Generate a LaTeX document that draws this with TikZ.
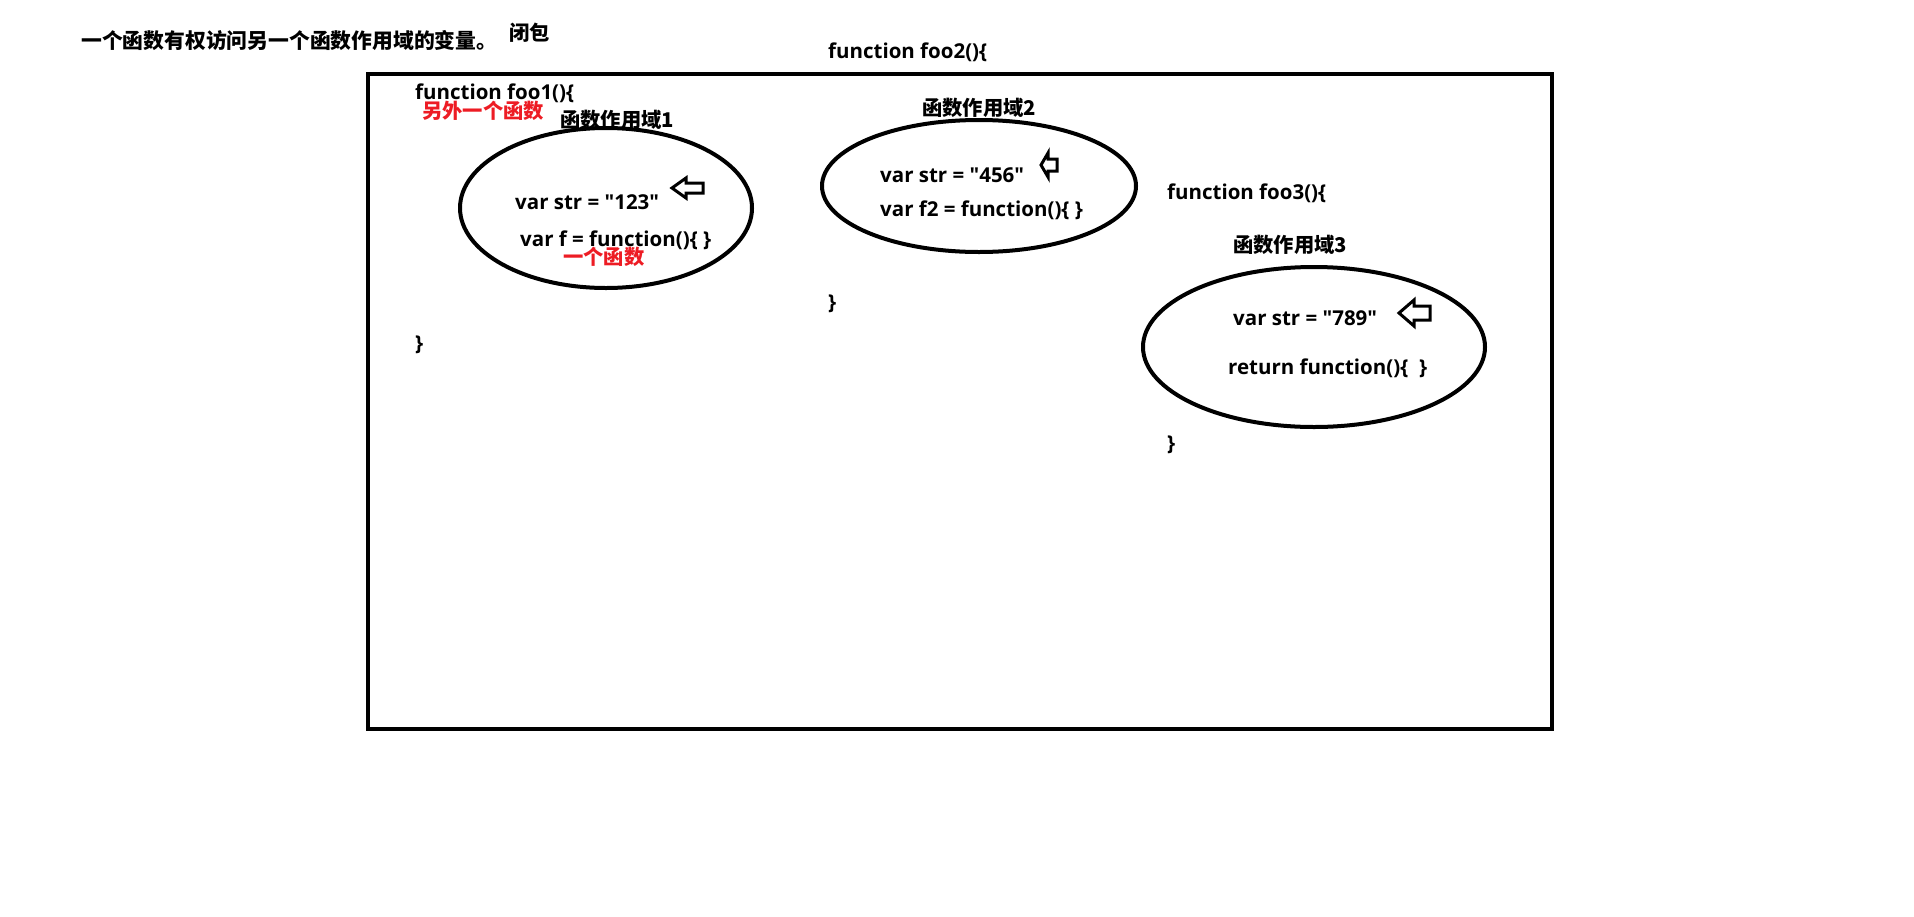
\documentclass[tikz,border=0pt]{standalone}
\usepackage{fontspec}
\newfontfamily\latin{Open Sans}[Ligatures=TeXOff]
\newfontfamily\cjk{Noto Sans CJK SC}
\usetikzlibrary{shapes.geometric}
\definecolor{redtxt}{RGB}{237,28,36}
\tikzset{
  txt/.style={inner sep=0pt, anchor=west, font=\latin\fontsize{20.5}{24}\selectfont\bfseries},
  ctxt/.style={inner sep=0pt, anchor=west, font=\cjk\fontsize{20.3}{24}\selectfont\bfseries},
  redt/.style={ctxt, text=redtxt},
  scope/.style={draw=black, line width=4pt, ellipse, inner sep=0pt},
  blk/.style={draw=black, line width=3pt, fill=white, line join=miter}
}
\begin{document}
\begin{tikzpicture}[x=1pt,y=-1pt]
\useasboundingbox (0,0) rectangle (1914,916);
% outer frame
\node[draw=black, line width=4pt, minimum width=1184pt, minimum height=655pt, inner sep=0pt, anchor=north west] (frame) at (366,72) {};
% title
\node[ctxt, font=\cjk\fontsize{20.8}{24}\selectfont\bfseries] (title) at (81,41) {一个函数有权访问另一个函数作用域的变量。};
\node[ctxt] (bibao) at (509,33) {闭包};
% foo1
\node[txt] (f1) at (415,93) {function foo1()\{};
\node[redt] (other) at (422,111) {另外一个函数};
\node[ctxt] (s1) at (560,120) {函数作用域1};
\node[scope, minimum width=292pt, minimum height=160pt] (e1) at (606,208) {};
\node[txt] (v1) at (515,202) {var str = "123"};
\node[txt] (f1b) at (520,240) {var f = function()\{ \}};
\node[redt] (one) at (563,257) {一个函数};
\node[txt] (c1) at (415,345) {\}};
\draw[blk] (672,188) -- (686,178) -- (686,183) -- (703,183) -- (703,193) -- (686,193) -- (686,198) -- cycle;
% foo2
\node[txt] (f2) at (828,52) {function foo2()\{};
\node[ctxt] (s2) at (922,108) {函数作用域2};
\node[scope, minimum width=314pt, minimum height=132pt] (e2) at (979,186) {};
\node[txt] (v2) at (880,175) {var str = "456"};
\node[txt] (f2b) at (880,210) {var f2 = function()\{ \}};
\node[txt] (c2) at (828,304) {\}};
\draw[blk] (1041,165) -- (1048,153) -- (1048,159) -- (1057,159) -- (1057,171) -- (1048,171) -- (1048,177) -- cycle;
% foo3
\node[txt] (f3) at (1167,193) {function foo3()\{};
\node[ctxt] (s3) at (1233,245) {函数作用域3};
\node[scope, minimum width=342pt, minimum height=160pt] (e3) at (1314,347) {};
\node[txt] (v3) at (1233,318) {var str = "789"};
\node[txt] (r3) at (1228,368) {return function()\{~~\}};
\node[txt] (c3) at (1167,445) {\}};
\draw[blk] (1399,313) -- (1414,300) -- (1414,306) -- (1430,306) -- (1430,320) -- (1414,320) -- (1414,326) -- cycle;
\end{tikzpicture}
\end{document}
